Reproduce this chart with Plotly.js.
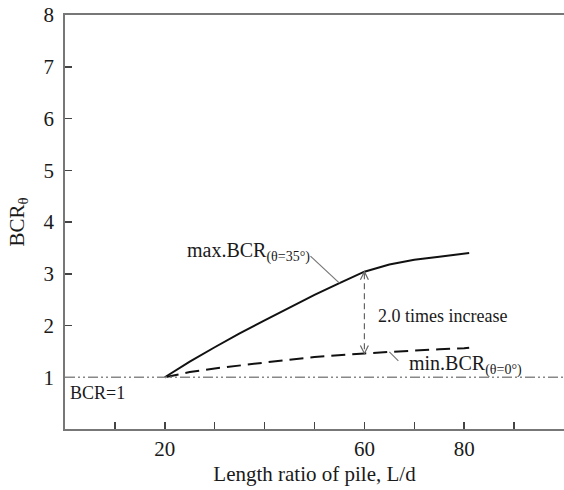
<!DOCTYPE html>
<html>
<head>
<meta charset="utf-8">
<script src="https://cdn.plot.ly/plotly-3.0.1.min.js"></script>
<style>html,body{margin:0;padding:0;background:#fff;}#chart{width:564px;height:490px;}</style>
</head>
<body>
<div id="chart"></div>
<script>
// Data
var lengthRatio = [20, 25, 30, 35, 40, 45, 50, 55, 60, 65, 70, 75, 80, 81];
var maxBCR = [1.00, 1.30, 1.58, 1.85, 2.10, 2.35, 2.59, 2.82, 3.04, 3.18, 3.27, 3.33, 3.38, 3.40];
var minBCR = [1.00, 1.10, 1.17, 1.23, 1.29, 1.34, 1.39, 1.43, 1.46, 1.49, 1.52, 1.54, 1.56, 1.57];
var baselineBCR = 1;
var xTickVals = [20, 60, 80];
var xTickText = ['20', '60', '80'];
var xMinorTickVals = [10, 30, 40, 50, 70, 90];
var yTickVals = [1, 2, 3, 4, 5, 6, 7, 8];
var compareX = 60;

var FONT = 'Liberation Serif, Times New Roman, serif';
var TXT = '#1a1a1a';
var GRAY = '#777';

var iCmp = lengthRatio.indexOf(compareX);
var yTop = maxBCR[iCmp];
var yBot = minBCR[iCmp];
var iLeadMax = lengthRatio.indexOf(55);
var iLeadMin = lengthRatio.indexOf(65);

var traces = [
  {x: lengthRatio, y: maxBCR, mode: 'lines', line: {color: '#111', width: 2}, hoverinfo: 'skip'},
  {x: lengthRatio, y: minBCR, mode: 'lines', line: {color: '#111', width: 2, dash: '14px,7px'}, hoverinfo: 'skip'},
  {x: [compareX, compareX], y: [yTop - 0.03, yBot + 0.03], mode: 'lines', line: {color: '#666', width: 1.2, dash: '6px,4px'}, hoverinfo: 'skip'}
];

function pixShape(xa, ya, path, color) {
  return {type: 'path', xref: 'x', yref: 'y', xsizemode: 'pixel', ysizemode: 'pixel',
          xanchor: xa, yanchor: ya, path: path, line: {color: color, width: 1.2}};
}

var layout = {
  width: 564, height: 490,
  margin: {l: 65, r: 0, t: 15, b: 61},
  paper_bgcolor: '#fff', plot_bgcolor: '#fff',
  showlegend: false,
  font: {family: FONT, color: TXT, size: 21},
  xaxis: {
    range: [0, 100], showgrid: false, zeroline: false,
    showline: true, linecolor: GRAY, linewidth: 1.8, mirror: true,
    ticks: 'inside', ticklen: 7, tickwidth: 1.5, tickcolor: '#444',
    tickmode: 'array', tickvals: xTickVals, ticktext: xTickText,
    minor: {tickmode: 'array', tickvals: xMinorTickVals, ticks: 'inside', ticklen: 7, tickwidth: 1.5, tickcolor: '#444', showgrid: false},
    tickfont: {family: FONT, size: 21, color: TXT},
    title: {text: 'Length ratio of pile, L/d', font: {family: FONT, size: 21, color: TXT}, standoff: 6}
  },
  yaxis: {
    range: [0, 8], showgrid: false, zeroline: false,
    showline: true, linecolor: GRAY, linewidth: 1.8,
    ticks: 'inside', ticklen: 7, tickwidth: 1.5, tickcolor: '#444',
    tickmode: 'array', tickvals: yTickVals,
    tickfont: {family: FONT, size: 21, color: TXT},
    ticklabelstandoff: 5,
    title: {text: 'BCR<sub>θ</sub>', font: {family: FONT, size: 21, color: TXT}, standoff: 13}
  },
  shapes: [
    {type: 'line', xref: 'paper', yref: 'y', x0: 0, x1: 1, y0: baselineBCR, y1: baselineBCR,
     line: {color: '#888', width: 1.5, dash: '10px,3px,2px,3px,2px,3px'}},
    // leader lines
    pixShape(lengthRatio[iLeadMax], maxBCR[iLeadMax], 'M0,0 L-29,27', '#777'),
    pixShape(lengthRatio[iLeadMin], minBCR[iLeadMin], 'M0,0 L9,-9', '#777'),
    // open arrowheads
    pixShape(compareX, yTop, 'M-4,-8 L0,0 L4,-8', '#666'),
    pixShape(compareX, yBot, 'M-4,8 L0,0 L4,8', '#666')
  ],
  annotations: [
    {x: 24, y: 3.42, xref: 'x', yref: 'y', xanchor: 'left', yanchor: 'middle', showarrow: false,
     text: 'max.BCR<sub>(θ=35°)</sub>', font: {family: FONT, size: 20, color: TXT}},
    {x: 62.3, y: 2.18, xref: 'x', yref: 'y', xanchor: 'left', yanchor: 'middle', showarrow: false,
     text: '2.0 times increase', font: {family: FONT, size: 18, color: TXT}},
    {x: 68.5, y: 1.24, xref: 'x', yref: 'y', xanchor: 'left', yanchor: 'middle', showarrow: false,
     text: 'min.BCR<sub>(θ=0°)</sub>', font: {family: FONT, size: 20, color: TXT}},
    {x: 0.6, y: 0.70, xref: 'x', yref: 'y', xanchor: 'left', yanchor: 'middle', showarrow: false,
     text: 'BCR=1', font: {family: FONT, size: 18, color: TXT}}
  ]
};

Plotly.newPlot('chart', traces, layout, {staticPlot: true, displayModeBar: false});
</script>
</body>
</html>
